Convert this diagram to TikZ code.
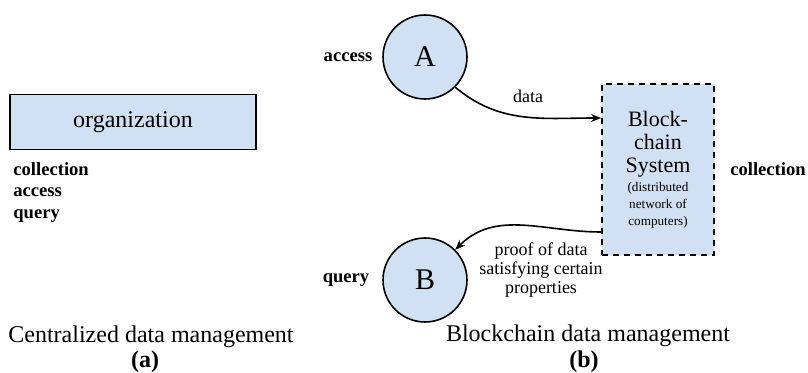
\documentclass[tikz,border=0pt]{standalone}
\usepackage{fontspec}
\setmainfont{Liberation Serif}
\usetikzlibrary{arrows.meta}

\definecolor{nodeblue}{RGB}{209,224,242}

\begin{document}
\begin{tikzpicture}[x=0.5pt, y=-0.5pt,
    every node/.style={inner sep=0pt},
    party/.style={circle, draw, line width=0.8pt, fill=nodeblue, minimum size=42pt,
        font=\fontsize{15}{15}\selectfont},
    role/.style={font=\fontsize{9.3}{10.75}\selectfont\bfseries},
    flow/.style={font=\fontsize{9}{9.5}\selectfont},
    caption/.style={font=\fontsize{12}{12}\selectfont},
    msg/.style={-{Stealth[length=5pt, width=4pt]}, line width=0.8pt}]
    \useasboundingbox (0,0) rectangle (808,373);

    % (a): one organization does everything
    \node[draw, line width=0.8pt, fill=nodeblue, minimum width=123pt, minimum height=27.5pt,
        font=\fontsize{12}{12}\selectfont] (org) at (133,122) {organization};
    \node[role, anchor=north west, align=left] (orgroles) at (13,162) {collection\\access\\query};
    \node[caption] (capa) at (151,337) {Centralized data management};
    \node[caption, font=\fontsize{12}{12}\selectfont\bfseries] (laba) at (145,362) {(a)};

    % (b): parties talk to the blockchain system
    \node[party] (A) at (425,57) {A};
    \node[party] (B) at (425,280) {B};
    \node[role] (accessA) at (348,57) {access};
    \node[role] (queryB) at (346,280) {query};

    \node[draw, dashed, dash pattern=on 3pt off 2.5pt, line width=1pt, fill=nodeblue,
        minimum width=56pt, minimum height=85.5pt] (sys) at (658,170)
        {\begin{minipage}{54pt}\centering
         \fontsize{11}{11.5}\selectfont Block-\\chain\\System\par\vspace{1pt}
         \fontsize{6.6}{8.5}\selectfont (distributed\\network of\\computers)\par
         \end{minipage}};
    \node[role] (collsys) at (768,169) {collection};

    \draw[msg] (A.-45) to[out=-40, in=180] ([yshift=26pt]sys.west);
    \node[flow] (datalbl) at (528,96) {data};
    \draw[msg] ([yshift=-31pt]sys.west) to[out=180, in=45] (B.45);
    \node[flow, align=center] (prooflbl) at (541,270) {proof of data\\satisfying certain\\properties};

    \node[caption] (capb) at (588,336) {Blockchain data management};
    \node[caption, font=\fontsize{12}{12}\selectfont\bfseries] (labb) at (584,362) {(b)};
\end{tikzpicture}
\end{document}
